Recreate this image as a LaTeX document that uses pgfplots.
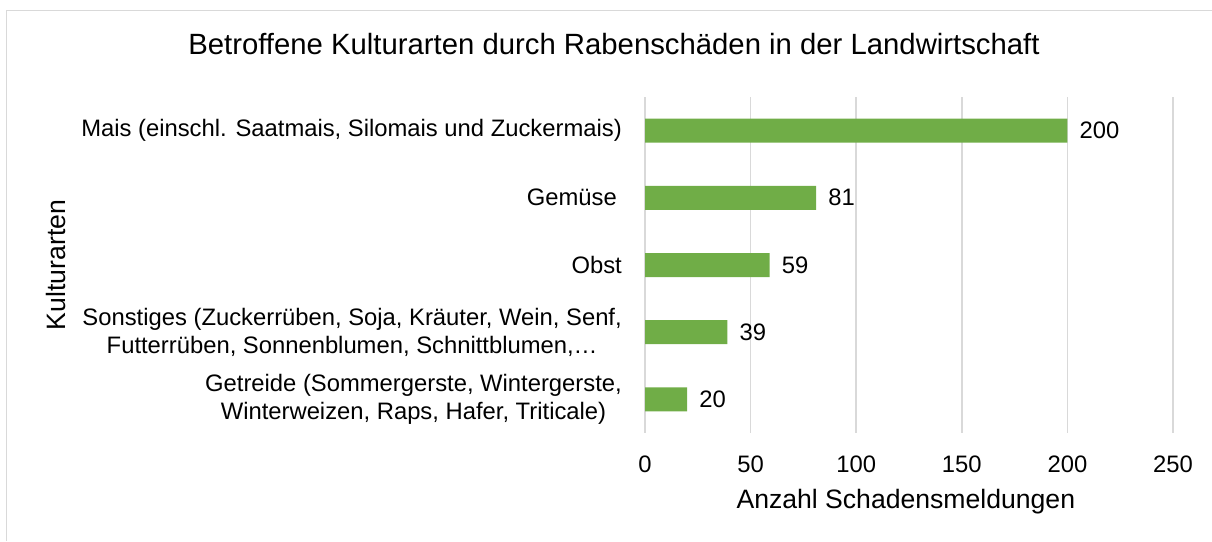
\documentclass[border=0pt]{standalone}
\usepackage{fontspec}
\setmainfont{Liberation Sans}
\usepackage{pgfplots}
\pgfplotsset{compat=1.18}
\definecolor{bargreen}{HTML}{70AD47}
\definecolor{gridgray}{HTML}{D9D9D9}
\newcommand{\lbl}{\fontsize{23.8}{27.5}\selectfont}
\newcommand{\axt}{\fontsize{26.6}{31}\selectfont}
\newcommand{\ttl}{\fontsize{29.3}{35}\selectfont}
\begin{document}
\begin{tikzpicture}
\useasboundingbox (0,0) rectangle (1212pt,541pt);
\draw[gridgray, line width=1.2pt] (6.5pt,0) -- (6.5pt,530.5pt) -- (1212pt,530.5pt);
\begin{axis}[
  at={(645pt,108pt)}, anchor=south west,
  scale only axis, width=528pt, height=336pt,
  xbar, bar width=24pt,
  xmin=0, xmax=250, ymin=-0.5, ymax=4.5,
  enlargelimits=false,
  y dir=reverse,
  axis line style={draw=none},
  xmajorgrids, grid style={gridgray, line width=1.5pt},
  xtick={0,50,100,150,200,250},
  ytick={0,1,2,3,4},
  yticklabels={{Mais (einschl. Saatmais, Silomais und Zuckermais)},{Gemüse\hspace*{5pt}},{Obst},{Sonstiges (Zuckerrüben, Soja, Kräuter, Wein, Senf,\\Futterrüben, Sonnenblumen, Schnittblumen,…},{Getreide (Sommergerste, Wintergerste,\\Winterweizen, Raps, Hafer, Triticale)}},
  major tick length=0pt,
  tick style={draw=none},
  /pgf/number format/assume math mode=true,
  xticklabel style={font=\lbl, anchor=base, yshift=-39pt, inner sep=0pt},
  yticklabel style={font=\lbl, align=center, anchor=east, inner sep=0pt, xshift=-23pt},
  nodes near coords,
  nodes near coords style={font=\lbl, anchor=west, inner sep=0pt, xshift=12pt, black},
  title={Betroffene Kulturarten durch Rabenschäden in der Landwirtschaft},
  title style={font=\ttl, at={(axis description cs:-0.0587,1.110)}, anchor=base, inner sep=0pt},
  xlabel={Anzahl Schadensmeldungen},
  xlabel style={font=\axt, at={(axis description cs:0.494,-0.226)}, anchor=base, inner sep=0pt},
  ylabel={Kulturarten},
  ylabel style={font=\axt, at={(axis description cs:-1.098,0.5)}, anchor=base, inner sep=0pt},
]
\addplot[fill=bargreen, draw=none] coordinates {(200,0) (81,1) (59,2) (39,3) (20,4)};
\end{axis}
\end{tikzpicture}
\end{document}
